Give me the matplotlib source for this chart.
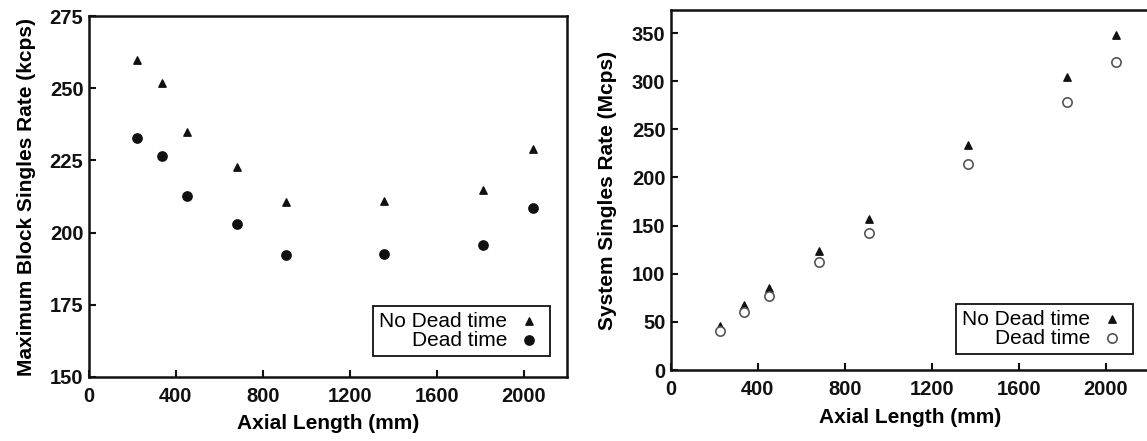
import matplotlib
matplotlib.use("Agg")
import matplotlib.pyplot as plt

plt.rcParams["font.family"] = ["Liberation Sans", "DejaVu Sans"]

# axial length (mm) of each configuration
axial_left = [220, 335, 450, 680, 905, 1360, 1815, 2045]
axial_right = [225, 338, 450, 680, 910, 1365, 1822, 2050]

# maximum block singles rate (kcps)
block_no_dead = [259.6, 251.8, 234.9, 222.8, 210.5, 210.8, 214.9, 229.1]
block_dead = [232.7, 226.6, 212.8, 202.9, 192.2, 192.5, 195.7, 208.5]

# system singles rate (Mcps)
system_no_dead = [45.3, 67.2, 85.7, 123.6, 156.7, 234.0, 304.0, 348.0]
system_dead = [40.0, 60.0, 76.6, 112.0, 142.8, 213.5, 278.6, 319.7]

x_ticks = [0, 400, 800, 1200, 1600, 2000]
left_yticks = [150, 175, 200, 225, 250, 275]
right_yticks = [0, 50, 100, 150, 200, 250, 300, 350]

W, H = 1147, 441
fig = plt.figure(figsize=(W / 100, H / 100), dpi=100)
ax1 = fig.add_axes([89 / W, (H - 377) / H, 478 / W, 361 / H])
ax2 = fig.add_axes([671 / W, (H - 370) / H, 478 / W, 360 / H])

ink = "#111111"


def style(ax):
    for s in ax.spines.values():
        s.set_linewidth(1.8)
        s.set_color(ink)
    ax.tick_params(direction="in", length=5, width=1.5, colors=ink)
    ax.tick_params(axis="x", pad=7)
    ax.tick_params(axis="y", pad=4)
    for lab in ax.get_xticklabels() + ax.get_yticklabels():
        lab.set_fontsize(14.5)
        lab.set_fontweight("bold")


ax1.scatter(axial_left, block_no_dead, marker="^", s=28, color=ink, label="No Dead time", zorder=3)
ax1.scatter(axial_left, block_dead, marker="o", s=45, color=ink, label="Dead time", zorder=3)
ax1.set_xlim(0, 2200)
ax1.set_ylim(150, 275)
ax1.set_xticks(x_ticks)
ax1.set_yticks(left_yticks)
ax1.set_xlabel("Axial Length (mm)", fontsize=15, fontweight="bold", labelpad=6)
ax1.set_ylabel("Maximum Block Singles Rate (kcps)", fontsize=15, fontweight="bold", labelpad=10)
style(ax1)

ax2.scatter(axial_right, system_no_dead, marker="^", s=28, color=ink, label="No Dead time", zorder=3)
ax2.scatter(axial_right, system_dead, marker="o", s=45, facecolors="white", edgecolors="#555555",
            linewidths=1.2, label="Dead time", zorder=3)
ax2.set_xlim(0, 2200)
ax2.set_ylim(0, 374)
ax2.set_xticks(x_ticks)
ax2.set_yticks(right_yticks)
ax2.set_xlabel("Axial Length (mm)", fontsize=15, fontweight="bold", labelpad=7)
ax2.set_ylabel("System Singles Rate (Mcps)", fontsize=15, fontweight="bold", labelpad=11)
style(ax2)

for ax, anchor in [(ax1, (0.964, 0.058)), (ax2, (0.966, 0.044))]:
    leg = ax.legend(loc="lower right", bbox_to_anchor=anchor, markerfirst=False, fontsize=15,
                    fancybox=False, framealpha=1, edgecolor=ink, borderpad=0.3,
                    labelspacing=0.0, handletextpad=0.35, handlelength=1.4, borderaxespad=0)
    leg.get_frame().set_linewidth(1.3)

fig.savefig("out.png", dpi=100)
